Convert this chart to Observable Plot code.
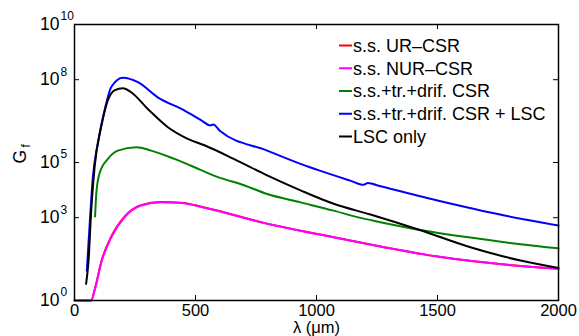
<!DOCTYPE html>
<html><head><meta charset="utf-8">
<script src="https://cdn.jsdelivr.net/npm/d3@7"></script>
<script src="https://cdn.jsdelivr.net/npm/@observablehq/plot@0.6"></script>
<style>body{margin:0;background:#fff;} #chart{width:579px;height:336px;overflow:hidden}</style>
</head><body><div id="chart"></div>
<script>
// Series names and colours (legend order)
const seriesNames = ["s.s. UR–CSR", "s.s. NUR–CSR", "s.s.+tr.+drif. CSR", "s.s.+tr.+drif. CSR + LSC", "LSC only"];
const seriesColors = ["#ff0000", "#ff00ff", "#008000", "#0000ff", "#000000"];

// s.s. UR-CSR
const lamRed = [0, 69, 83, 113, 152, 207, 275, 358, 441, 537, 796, 1071, 1264, 1500, 1777, 2000];
const gRed   = [1, 1, 2.4, 30, 210, 1.1e3, 2.85e3, 3.7e3, 3.5e3, 2.35e3, 610, 195, 91, 39, 20, 14];
// s.s. NUR-CSR
const lamMag = [0, 69, 83, 113, 152, 207, 275, 358, 441, 537, 796, 1071, 1264, 1500, 1777, 2000];
const gMag   = [1, 1, 2.3, 28, 195, 1.05e3, 2.75e3, 3.6e3, 3.4e3, 2.3e3, 600, 195, 91, 39, 20, 14];
// s.s.+tr.+drif. CSR
const lamGreen = [85, 90, 103, 138, 179, 255, 317, 413, 521, 590, 700, 796, 934, 1071, 1168, 1264, 1430, 1636, 1843, 2000];
const gGreen   = [1.1e3, 7.4e3, 3.9e4, 1.35e5, 2.7e5, 3.6e5, 2.7e5, 1.35e5, 5.4e4, 3.0e4, 1.5e4, 7.2e3, 3.6e3, 1.8e3, 1.05e3, 6.9e2, 3.6e2, 1.9e2, 1.1e2, 78];
// s.s.+tr.+drif. CSR + LSC
const lamBlue = [51, 62, 76, 96, 124, 152, 200, 262, 344, 455, 521, 562, 573, 603, 796, 934, 1140, 1195, 1212, 1264, 1500, 1777, 2000];
const gBlue   = [12, 460, 3.0e4, 4.8e5, 7.6e6, 5.4e7, 1.17e8, 8.1e7, 2.3e7, 7.6e6, 3.5e6, 2.2e6, 2.4e6, 1.35e6, 2.7e5, 8.9e4, 2.2e4, 1.55e4, 1.8e4, 1.38e4, 4.2e3, 1.2e3, 520];
// LSC only
const lamBlack = [48, 58, 69, 83, 110, 138, 165, 200, 234, 303, 386, 468, 537, 658, 796, 934, 1071, 1223, 1430, 1636, 1843, 2000];
const gBlack   = [4, 28, 1.8e3, 6.8e4, 1.9e6, 1.8e7, 4.1e7, 4.9e7, 3.5e7, 8.7e6, 1.9e6, 7.2e5, 4.2e5, 1.35e5, 3.4e4, 9.8e3, 3.2e3, 1.3e3, 3.5e2, 85, 28, 15];

// Axis ticks
const xTicks = [0, 500, 1000, 1500, 2000];
const xTickLabels = ["0", "500", "1000", "1500", "2000"];
const yTicks = [1, 1e3, 1e5, 1e8, 1e10];
const yTickExponents = ["0", "3", "5", "8", "10"];
const xLabel = "λ (μm)";

const lams = [lamRed, lamMag, lamGreen, lamBlue, lamBlack];
const gs = [gRed, gMag, gGreen, gBlue, gBlack];
const rows = [];
seriesNames.forEach((name, s) => {
  lams[s].forEach((l, i) => rows.push({series: name, lambda: l, g: gs[s][i]}));
});

const FONT = "'Liberation Sans', Arial, Helvetica, sans-serif";
const W = 579, H = 336, ML = 74, MR = 21, MT = 24, MB = 36;
const frameW = W - ML - MR, frameH = H - MT - MB;

const svg = Plot.plot({
  width: W, height: H,
  marginLeft: ML, marginRight: MR, marginTop: MT, marginBottom: MB,
  style: {fontFamily: FONT, fontSize: "17.5px", color: "black", background: "white"},
  x: {domain: [0, 2000]},
  y: {type: "log", domain: [1, 1e10], axis: null},
  color: {domain: seriesNames, range: seriesColors},
  marks: [
    ...seriesNames.map(name => Plot.line(rows.filter(r => r.series === name), {
      x: "lambda", y: "g", stroke: "series", strokeWidth: 2, curve: "monotone-x"
    })),
    Plot.frame({stroke: "black", strokeWidth: 1.5}),
    // inward ticks
    Plot.tickX(xTicks, {x: d => d, insetTop: frameH - 5, stroke: "black"}),
    Plot.tickX(xTicks, {x: d => d, insetBottom: frameH - 5, stroke: "black"}),
    Plot.tickY(yTicks, {y: d => d, insetRight: frameW - 5, stroke: "black"}),
    Plot.tickY(yTicks, {y: d => d, insetLeft: frameW - 5, stroke: "black"}),
    Plot.axisX({ticks: xTicks, tickSize: 0, tickPadding: 4, tickFormat: d => xTickLabels[xTicks.indexOf(d)], label: null, fontSize: 16.5}),
    Plot.text(yTicks, {y: d => d, frameAnchor: "left", text: () => "10", textAnchor: "end", dx: -15, fontSize: 17.5}),
    Plot.text(yTicks, {y: d => d, frameAnchor: "left", text: (d, i) => yTickExponents[i], textAnchor: "start", dx: -14, dy: -8, fontSize: 12}),
    Plot.text([xLabel], {frameAnchor: "bottom", text: d => d, dy: 32, fontSize: 16.5}),
    Plot.text(["G"], {frameAnchor: "left", text: d => d, rotate: -90, dx: -54, dy: 1, fontSize: 17.5}),
    Plot.text(["f"], {frameAnchor: "left", text: d => d, rotate: -90, dx: -48, dy: -15, fontSize: 12})
  ]
});
document.getElementById("chart").appendChild(svg);

// Legend inside the axes box (top right)
const lg = d3.select(svg).append("g").attr("font-family", FONT).attr("font-size", 18).attr("text-anchor", "start");
seriesNames.forEach((name, i) => {
  const y = 45.5 + i * 22.75;
  lg.append("line").attr("x1", 339).attr("x2", 352).attr("y1", y).attr("y2", y)
    .attr("stroke", seriesColors[i]).attr("stroke-width", 2);
  lg.append("text").attr("x", 353).attr("y", y).attr("dy", "0.35em").attr("fill", "black")
    .attr("text-anchor", "start").text(name);
});
</script>
</body></html>
